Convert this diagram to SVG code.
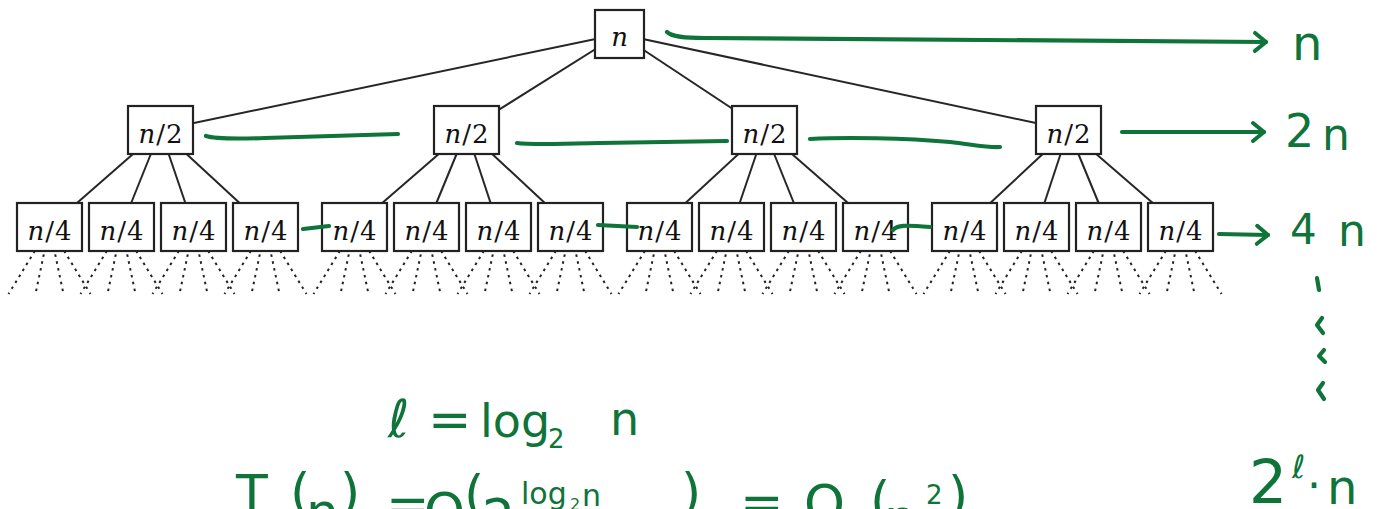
<svg xmlns="http://www.w3.org/2000/svg" width="1389" height="509" viewBox="0 0 1389 509">
<style>
.box{fill:#fff;stroke:#222;stroke-width:2.2}
.edge{stroke:#262626;stroke-width:2;fill:none}
.dot{stroke:#222;stroke-width:2;stroke-dasharray:2.5 4.5;fill:none}
.lbl{font-family:"DejaVu Serif",serif;font-size:26px;fill:#111;text-anchor:middle;letter-spacing:1px}
.ink{stroke:#0f743a;stroke-width:4.2;fill:none;stroke-linecap:round;stroke-linejoin:round}
.hw{font-family:"DejaVu Sans",sans-serif;fill:#0f743a}
</style>
<defs>
<marker id="ah" viewBox="-15 -15 30 30" markerUnits="userSpaceOnUse" markerWidth="30" markerHeight="30" refX="0" refY="0" orient="auto">
<path d="M-11,-9 L0,0 L-11,9" stroke="#0f743a" stroke-width="4" fill="none" stroke-linecap="round" stroke-linejoin="round"/>
</marker>
</defs>
<g id="connectors">
<line class="edge" x1="619.5" y1="34" x2="160.5" y2="130"/>
<line class="edge" x1="619.5" y1="34" x2="466.5" y2="130"/>
<line class="edge" x1="619.5" y1="34" x2="764.5" y2="130"/>
<line class="edge" x1="619.5" y1="34" x2="1068.5" y2="130"/>
<line class="edge" x1="160.5" y1="130" x2="49.5" y2="227"/>
<line class="edge" x1="160.5" y1="130" x2="121.5" y2="227"/>
<line class="edge" x1="160.5" y1="130" x2="193.5" y2="227"/>
<line class="edge" x1="160.5" y1="130" x2="265.5" y2="227"/>
<line class="edge" x1="466.5" y1="130" x2="354.5" y2="227"/>
<line class="edge" x1="466.5" y1="130" x2="426.5" y2="227"/>
<line class="edge" x1="466.5" y1="130" x2="498.5" y2="227"/>
<line class="edge" x1="466.5" y1="130" x2="570.5" y2="227"/>
<line class="edge" x1="764.5" y1="130" x2="659.5" y2="227"/>
<line class="edge" x1="764.5" y1="130" x2="731.5" y2="227"/>
<line class="edge" x1="764.5" y1="130" x2="803.5" y2="227"/>
<line class="edge" x1="764.5" y1="130" x2="875.5" y2="227"/>
<line class="edge" x1="1068.5" y1="130" x2="964.5" y2="227"/>
<line class="edge" x1="1068.5" y1="130" x2="1036.5" y2="227"/>
<line class="edge" x1="1068.5" y1="130" x2="1108.5" y2="227"/>
<line class="edge" x1="1068.5" y1="130" x2="1180.5" y2="227"/>
<g id="dotted">
<path class="dot" d="M49.5,227 L8.5,294 M49.5,227 L35.5,294 M49.5,227 L63.5,294 M49.5,227 L90.5,294"/>
<path class="dot" d="M121.5,227 L80.5,294 M121.5,227 L107.5,294 M121.5,227 L135.5,294 M121.5,227 L162.5,294"/>
<path class="dot" d="M193.5,227 L152.5,294 M193.5,227 L179.5,294 M193.5,227 L207.5,294 M193.5,227 L234.5,294"/>
<path class="dot" d="M265.5,227 L224.5,294 M265.5,227 L251.5,294 M265.5,227 L279.5,294 M265.5,227 L306.5,294"/>
<path class="dot" d="M354.5,227 L313.5,294 M354.5,227 L340.5,294 M354.5,227 L368.5,294 M354.5,227 L395.5,294"/>
<path class="dot" d="M426.5,227 L385.5,294 M426.5,227 L412.5,294 M426.5,227 L440.5,294 M426.5,227 L467.5,294"/>
<path class="dot" d="M498.5,227 L457.5,294 M498.5,227 L484.5,294 M498.5,227 L512.5,294 M498.5,227 L539.5,294"/>
<path class="dot" d="M570.5,227 L529.5,294 M570.5,227 L556.5,294 M570.5,227 L584.5,294 M570.5,227 L611.5,294"/>
<path class="dot" d="M659.5,227 L618.5,294 M659.5,227 L645.5,294 M659.5,227 L673.5,294 M659.5,227 L700.5,294"/>
<path class="dot" d="M731.5,227 L690.5,294 M731.5,227 L717.5,294 M731.5,227 L745.5,294 M731.5,227 L772.5,294"/>
<path class="dot" d="M803.5,227 L762.5,294 M803.5,227 L789.5,294 M803.5,227 L817.5,294 M803.5,227 L844.5,294"/>
<path class="dot" d="M875.5,227 L834.5,294 M875.5,227 L861.5,294 M875.5,227 L889.5,294 M875.5,227 L916.5,294"/>
<path class="dot" d="M964.5,227 L923.5,294 M964.5,227 L950.5,294 M964.5,227 L978.5,294 M964.5,227 L1005.5,294"/>
<path class="dot" d="M1036.5,227 L995.5,294 M1036.5,227 L1022.5,294 M1036.5,227 L1050.5,294 M1036.5,227 L1077.5,294"/>
<path class="dot" d="M1108.5,227 L1067.5,294 M1108.5,227 L1094.5,294 M1108.5,227 L1122.5,294 M1108.5,227 L1149.5,294"/>
<path class="dot" d="M1180.5,227 L1139.5,294 M1180.5,227 L1166.5,294 M1180.5,227 L1194.5,294 M1180.5,227 L1221.5,294"/>
</g>
</g>
<g id="root"><rect class="box" x="595" y="10" width="49" height="48"/><text class="lbl" x="620" y="46"><tspan font-style="italic">n</tspan></text></g>
<g id="h1"><rect class="box" x="128" y="106" width="65" height="48"/><text class="lbl" x="161" y="143"><tspan font-style="italic">n</tspan>/2</text></g>
<g id="h2"><rect class="box" x="434" y="106" width="65" height="48"/><text class="lbl" x="467" y="143"><tspan font-style="italic">n</tspan>/2</text></g>
<g id="h3"><rect class="box" x="732" y="106" width="65" height="48"/><text class="lbl" x="765" y="143"><tspan font-style="italic">n</tspan>/2</text></g>
<g id="h4"><rect class="box" x="1036" y="106" width="65" height="48"/><text class="lbl" x="1069" y="143"><tspan font-style="italic">n</tspan>/2</text></g>
<g id="q1"><rect class="box" x="17" y="203" width="65" height="48"/><text class="lbl" x="50" y="240"><tspan font-style="italic">n</tspan>/4</text></g>
<g id="q2"><rect class="box" x="89" y="203" width="65" height="48"/><text class="lbl" x="122" y="240"><tspan font-style="italic">n</tspan>/4</text></g>
<g id="q3"><rect class="box" x="161" y="203" width="65" height="48"/><text class="lbl" x="194" y="240"><tspan font-style="italic">n</tspan>/4</text></g>
<g id="q4"><rect class="box" x="233" y="203" width="65" height="48"/><text class="lbl" x="266" y="240"><tspan font-style="italic">n</tspan>/4</text></g>
<g id="q5"><rect class="box" x="322" y="203" width="65" height="48"/><text class="lbl" x="355" y="240"><tspan font-style="italic">n</tspan>/4</text></g>
<g id="q6"><rect class="box" x="394" y="203" width="65" height="48"/><text class="lbl" x="427" y="240"><tspan font-style="italic">n</tspan>/4</text></g>
<g id="q7"><rect class="box" x="466" y="203" width="65" height="48"/><text class="lbl" x="499" y="240"><tspan font-style="italic">n</tspan>/4</text></g>
<g id="q8"><rect class="box" x="538" y="203" width="65" height="48"/><text class="lbl" x="571" y="240"><tspan font-style="italic">n</tspan>/4</text></g>
<g id="q9"><rect class="box" x="627" y="203" width="65" height="48"/><text class="lbl" x="660" y="240"><tspan font-style="italic">n</tspan>/4</text></g>
<g id="q10"><rect class="box" x="699" y="203" width="65" height="48"/><text class="lbl" x="732" y="240"><tspan font-style="italic">n</tspan>/4</text></g>
<g id="q11"><rect class="box" x="771" y="203" width="65" height="48"/><text class="lbl" x="804" y="240"><tspan font-style="italic">n</tspan>/4</text></g>
<g id="q12"><rect class="box" x="843" y="203" width="65" height="48"/><text class="lbl" x="876" y="240"><tspan font-style="italic">n</tspan>/4</text></g>
<g id="q13"><rect class="box" x="932" y="203" width="65" height="48"/><text class="lbl" x="965" y="240"><tspan font-style="italic">n</tspan>/4</text></g>
<g id="q14"><rect class="box" x="1004" y="203" width="65" height="48"/><text class="lbl" x="1037" y="240"><tspan font-style="italic">n</tspan>/4</text></g>
<g id="q15"><rect class="box" x="1076" y="203" width="65" height="48"/><text class="lbl" x="1109" y="240"><tspan font-style="italic">n</tspan>/4</text></g>
<g id="q16"><rect class="box" x="1148" y="203" width="65" height="48"/><text class="lbl" x="1181" y="240"><tspan font-style="italic">n</tspan>/4</text></g>
<g id="annotations">
<path class="ink" d="M667,32 C672,37 685,38 705,38 L1266,42" marker-end="url(#ah)"/>
<path class="ink" d="M206,136 C215,139 235,139 265,138 L398,134"/>
<path class="ink" d="M517,143 C530,145 560,144 600,143 L727,141"/>
<path class="ink" d="M810,139 C845,137 905,138 950,142 C975,145 990,148 1000,147"/>
<path class="ink" d="M1122,132 L1264,132" marker-end="url(#ah)"/>
<path class="ink" d="M303,229 L329,226"/>
<path class="ink" d="M598,225 L637,227"/>
<path class="ink" d="M893,230 C897,225 905,225 930,227"/>
<path class="ink" d="M1219,234 L1268,235" marker-end="url(#ah)"/>
<path class="ink" d="M1317,278 L1319,290 M1322,318 L1317,325 L1323,333 M1324,350 L1319,356 L1325,362 M1323,383 L1318,390 L1324,399"/>
<text class="hw" font-size="48" x="1292" y="60">n</text>
<text class="hw"><tspan font-size="46" x="1285" y="147">2</tspan><tspan font-size="44" x="1322" y="150">n</tspan></text>
<text class="hw"><tspan font-size="42" x="1290" y="244">4</tspan><tspan font-size="44" x="1338" y="246">n</tspan></text>
<text class="hw"><tspan font-size="60" x="1249" y="503">2</tspan><tspan font-size="32" x="1292" y="478">ℓ</tspan><tspan font-size="44" x="1307" y="501">·</tspan><tspan font-size="48" x="1327" y="504">n</tspan></text>
<text class="hw"><tspan font-size="52" x="388" y="437">ℓ</tspan><tspan font-size="52" x="428" y="437">=</tspan><tspan font-size="46" x="480" y="437">log</tspan><tspan font-size="26" x="548" y="448">2</tspan><tspan font-size="46" x="610" y="435">n</tspan></text>
<text class="hw"><tspan font-size="52" x="236" y="512">T</tspan><tspan font-size="52" x="290" y="510">(</tspan><tspan font-size="52" x="306" y="530">n</tspan><tspan font-size="52" x="340" y="510">)</tspan><tspan font-size="52" x="386" y="522">=</tspan><tspan font-size="52" x="424" y="530">O</tspan><tspan font-size="52" x="464" y="512">(</tspan><tspan font-size="52" x="482" y="536">2</tspan><tspan font-size="30" x="521" y="504">log</tspan><tspan font-size="16" x="570" y="510">2</tspan><tspan font-size="30" x="582" y="506">n</tspan><tspan font-size="52" x="681" y="510">)</tspan><tspan font-size="52" x="740" y="520">=</tspan><tspan font-size="52" x="804" y="522">O</tspan><tspan font-size="52" x="870" y="518">(</tspan><tspan font-size="52" x="884" y="536">n</tspan><tspan font-size="26" x="926" y="504">2</tspan><tspan font-size="52" x="948" y="513">)</tspan></text>
</g>
</svg>
